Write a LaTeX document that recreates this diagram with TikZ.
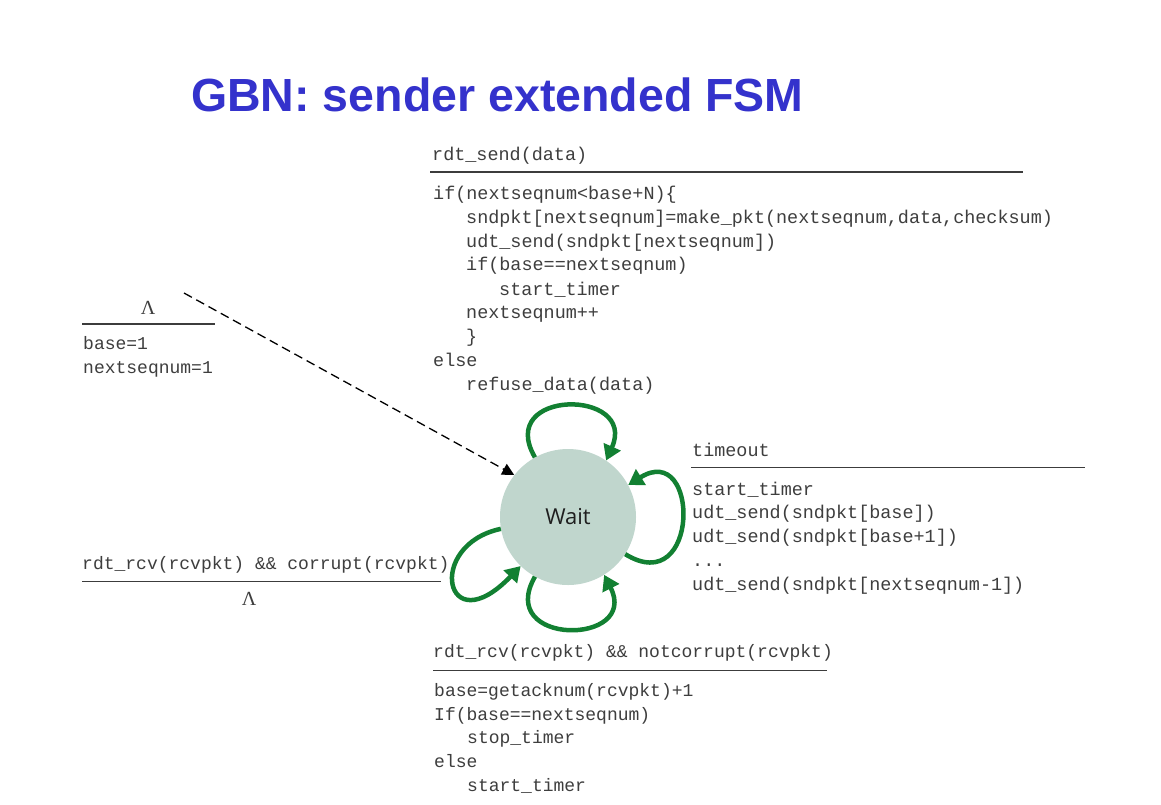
\documentclass[tikz,border=0pt]{standalone}
\usepackage{fontspec}
\usetikzlibrary{arrows.meta}
\newfontfamily\monofam{Liberation Mono}
\newfontfamily\titlefam{Liberation Sans}
\newfontfamily\waitfam{Open Sans}
\newfontfamily\lamfam{Liberation Serif}
\definecolor{titleblue}{RGB}{52,50,204}
\definecolor{txt}{RGB}{62,62,62}
\definecolor{rule}{RGB}{60,60,60}
\definecolor{loopgreen}{RGB}{18,128,50}
\definecolor{waitfill}{RGB}{192,214,205}
\tikzset{
  code/.style={anchor=base west, inner sep=0pt, text=txt, font=\monofam\fontsize{18}{18}\selectfont},
  codeL/.style={code, font=\monofam\fontsize{18.45}{18}\selectfont},
  lam/.style={anchor=base, inner sep=0pt, text=txt, font=\lamfam\fontsize{20}{20}\selectfont},
  rulel/.style={draw=rule, line width=1.6pt},
  loop/.style={draw=loopgreen, line width=4.5pt, -{Triangle[length=15pt,width=18pt]}, loopgreen},
}
\begin{document}
\begin{tikzpicture}[x=1pt,y=-1pt]
\useasboundingbox (0,0) rectangle (1161,804);
\fill[white] (0,0) rectangle (1161,804);

% title
\node[anchor=base west, inner sep=0pt, text=titleblue, font=\titlefam\bfseries\fontsize{46.5}{46.5}\selectfont] (title) at (191,111.7) {GBN: sender extended FSM};

% state
\node[circle, fill=waitfill, minimum size=136pt, inner sep=0pt, text={rgb,255:red,30;green,30;blue,30}, font=\waitfam\fontsize{22}{22}\selectfont] (W) at (568,517) {Wait};

% rdt_send transition
\node[codeL] (s0) at (432,160.7) {rdt\_send(data)};
\draw[rulel] (430,172) -- (1023,172);
\node[codeL] (s1) at (433,199.3) {if(nextseqnum<base+N)\{};
\node[codeL] (s2) at (466,223) {sndpkt[nextseqnum]=make\_pkt(nextseqnum,data,checksum)};
\node[codeL] (s3) at (466,247) {udt\_send(sndpkt[nextseqnum])};
\node[codeL] (s4) at (466,270.8) {if(base==nextseqnum)};
\node[codeL] (s5) at (499,295) {start\_timer};
\node[codeL] (s6) at (466,318.5) {nextseqnum++};
\node[codeL] (s7) at (466,342.5) {\}};
\node[codeL] (s8) at (433,366) {else};
\node[codeL] (s9) at (466,390) {refuse\_data(data)};

% initial transition
\node[lam] (l0) at (148,314.3) {Λ};
\draw[rulel] (82,324) -- (215,324);
\node[code] (i1) at (83,349.5) {base=1};
\node[code] (i2) at (83,373) {nextseqnum=1};
\coordinate (init) at (184,293);
\draw[black, line width=1.3pt, dash pattern=on 9pt off 5pt, -{Triangle[length=12pt,width=12pt]}] (init) -- (W.142);

% timeout transition
\node[codeL] (t0) at (692,456) {timeout};
\draw[rulel] (691,467.5) -- (1085,467.5);
\node[codeL] (t1) at (692,495) {start\_timer};
\node[codeL] (t2) at (692,518.5) {udt\_send(sndpkt[base])};
\node[codeL] (t3) at (692,542.5) {udt\_send(sndpkt[base+1])};
\node[codeL] (t4) at (692,566.5) {...};
\node[codeL] (t5) at (692,590.5) {udt\_send(sndpkt[nextseqnum-1])};

% corrupt transition
\node[code] (c0) at (82,569.3) {rdt\_rcv(rcvpkt) \&\& corrupt(rcvpkt)};
\draw[rulel] (82,581.5) -- (441,581.5);
\node[lam] (c1) at (249,605) {Λ};

% notcorrupt transition
\node[code] (n0) at (433,657.3) {rdt\_rcv(rcvpkt) \&\& notcorrupt(rcvpkt)};
\draw[rulel] (433,670.5) -- (827,670.5);
\node[code] (n1) at (434,696.7) {base=getacknum(rcvpkt)+1};
\node[code] (n2) at (434,720) {If(base==nextseqnum)};
\node[code] (n3) at (467,743.5) {stop\_timer};
\node[code] (n4) at (434,767.5) {else};
\node[code] (n5) at (467,791.5) {start\_timer};

% self loops
\draw[loop] (W.119) .. controls +(-40,-69) and +(32,-72) .. (W.56);
\draw[loop] (W.-33) .. controls +(75,46) and +(72,-45) .. (W.28);
\draw[loop] (W.241) .. controls +(-40,70) and +(36,71) .. (W.302);
\draw[loop] (W.190) .. controls +(-76,16) and +(-76,79) .. (W.226);
\end{tikzpicture}
\end{document}
